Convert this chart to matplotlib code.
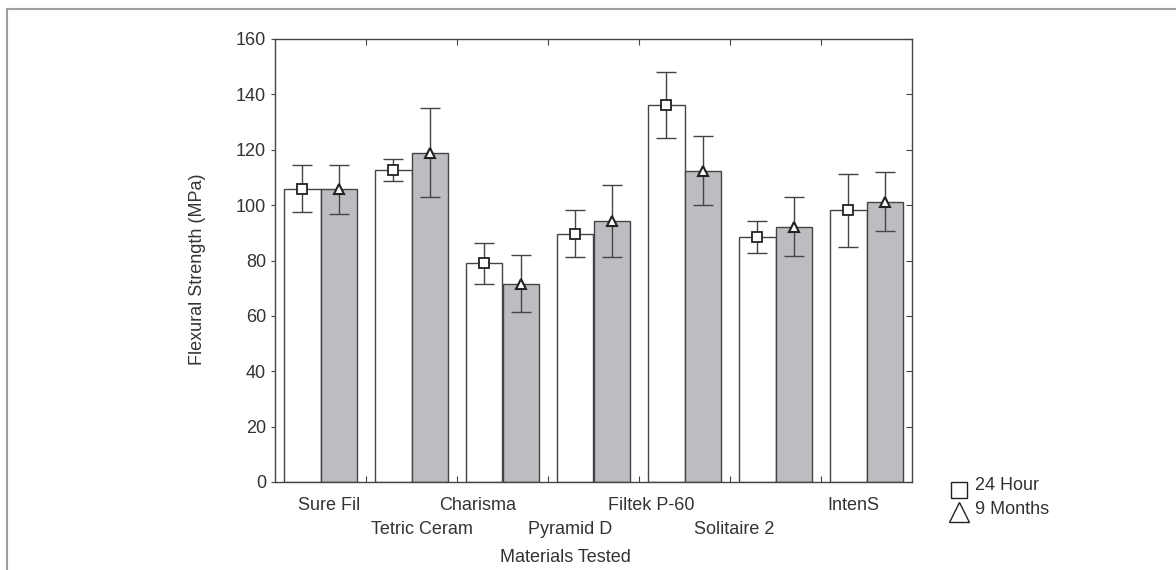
import numpy as np
import matplotlib
matplotlib.use("Agg")
import matplotlib.pyplot as plt
from matplotlib.lines import Line2D

materials = ["Sure Fil", "Tetric Ceram", "Charisma", "Pyramid D",
             "Filtek P-60", "Solitaire 2", "IntenS"]
# mean flexural strength (MPa)
h24 = [106.0, 112.7, 79.0, 89.6, 136.1, 88.4, 98.1]
m9 = [105.7, 118.8, 71.6, 94.1, 112.5, 92.2, 101.3]
# error bar ends
h24_hi = [114.6, 116.7, 86.3, 98.4, 148.0, 94.1, 111.3]
h24_lo = [97.5, 108.7, 71.5, 81.2, 124.4, 82.8, 84.9]
m9_hi = [114.4, 134.9, 82.0, 107.1, 125.0, 102.9, 111.9]
m9_lo = [96.9, 102.8, 61.3, 81.2, 100.0, 81.6, 90.7]

# where each (staggered) label sits along the axis
label_pos = [0.60, 1.61, 2.23, 3.24, 4.14, 5.05, 6.36]

plt.rcParams['font.family'] = ['Liberation Sans', 'DejaVu Sans']
txt = '#333333'
edge = '#444444'
fs = 13

fig = plt.figure(figsize=(11.76, 5.70), dpi=100)
ax = fig.add_axes([275/1176, 1 - 482/570, (912-275)/1176, (482-39)/570])

x = np.arange(len(materials))
w = 0.4
xa = x + 0.3
xb = x + 0.7
ax.bar(xa, h24, w, color='white', edgecolor=edge, linewidth=1.0, zorder=2)
ax.bar(xb, m9, w, color='#bcbdc0', edgecolor=edge, linewidth=1.0, zorder=2)

ea = [np.array(h24) - np.array(h24_lo), np.array(h24_hi) - np.array(h24)]
eb = [np.array(m9) - np.array(m9_lo), np.array(m9_hi) - np.array(m9)]
ax.errorbar(xa, h24, yerr=ea, fmt='none', ecolor=edge, elinewidth=1.0,
            capsize=7, capthick=1.0, zorder=3)
ax.errorbar(xb, m9, yerr=eb, fmt='none', ecolor=edge, elinewidth=1.0,
            capsize=7, capthick=1.0, zorder=3)
ax.plot(xa, h24, 's', ms=7, mfc='white', mec='#222222', mew=1.3, zorder=4)
ax.plot(xb, m9, '^', ms=6.5, mfc='white', mec='#222222', mew=1.5, zorder=4)

ax.set_xlim(0, 7)
ax.set_ylim(0, 160)
ax.set_yticks(np.arange(0, 161, 20))
ax.tick_params(axis='y', which='major', direction='out', length=3, width=0.8,
               colors=edge, labelcolor=txt, labelsize=fs, right=True)
ax.set_xticks([])
ax.set_xticks(np.arange(1, 7), minor=True)
ax.tick_params(axis='x', which='minor', direction='in', length=4, width=0.8,
               colors=edge, top=True, bottom=True, labelbottom=False)
for sp in ax.spines.values():
    sp.set_color(edge)
    sp.set_linewidth(1.0)

# staggered category labels
for i, (m, p) in enumerate(zip(materials, label_pos)):
    off = -24 if i % 2 == 0 else -47
    ax.annotate(m, xy=(p, 0), xycoords=('data', 'axes fraction'),
                xytext=(0, off), textcoords='offset pixels',
                ha='center', va='center', fontsize=fs, color=txt)

# right axis ticks point inward
ax2 = ax.twinx()
ax2.set_ylim(0, 160)
ax2.set_yticks(np.arange(0, 161, 20))
ax2.tick_params(axis='y', direction='in', length=4, width=0.8, colors=edge,
                labelright=False)
for sp in ax2.spines.values():
    sp.set_visible(False)

fig.text(565/1176, 1 - 557/570, 'Materials Tested', ha='center', va='center',
         fontsize=fs, color=txt)
fig.text(197/1176, 1 - 269/570, 'Flexural Strength (MPa)', ha='center', va='center',
         rotation=90, fontsize=fs, color=txt)

# legend
fig.add_artist(Line2D([959/1176], [1 - 490/570], marker='s', ms=12, mfc='white',
                      mec='#222222', mew=1.0, transform=fig.transFigure))
fig.add_artist(Line2D([959/1176], [1 - 512/570], marker='^', ms=15, mfc='white',
                      mec='#222222', mew=1.0, transform=fig.transFigure))
fig.text(975/1176, 1 - 486/570, '24 Hour', ha='left', va='center', fontsize=fs, color=txt)
fig.text(975/1176, 1 - 509/570, '9 Months', ha='left', va='center', fontsize=fs, color=txt)

# page frame
fig.add_artist(Line2D([7/1176, 1], [1 - 9/570, 1 - 9/570], color='#a0a0a0', lw=1.5,
                      transform=fig.transFigure))
fig.add_artist(Line2D([7/1176, 7/1176], [0, 1 - 9/570], color='#a0a0a0', lw=1.5,
                      transform=fig.transFigure))

fig.savefig('out.png', dpi=100)
